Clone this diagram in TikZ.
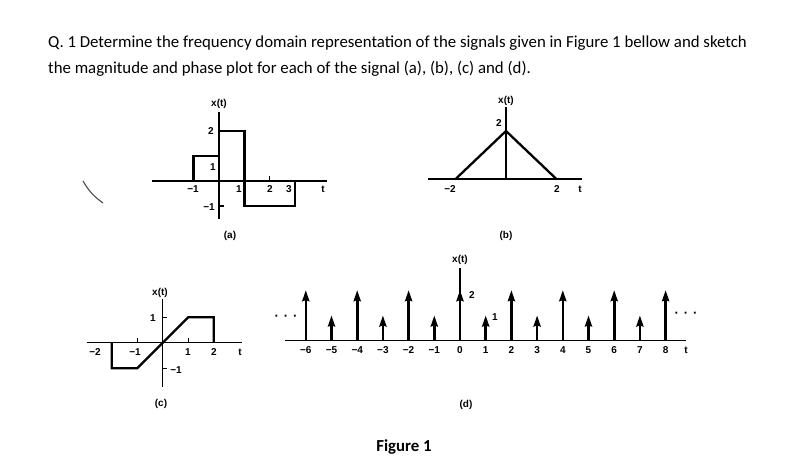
\documentclass[tikz,border=0pt]{standalone}
\usepackage{fontspec}
\setmainfont{Carlito}
\newfontfamily\plotfont{Liberation Sans}
\usetikzlibrary{arrows.meta}

\tikzset{
  axis/.style={line width=1.3pt},
  sig/.style={line width=2.3pt, line join=miter},
  tck/.style={line width=1.2pt},
  lbl/.style={font=\plotfont\bfseries\fontsize{10}{10}\selectfont, inner sep=0pt},
  dots/.style={font=\plotfont\bfseries\fontsize{13}{13}\selectfont, inner sep=0pt},
  imp/.style={line width=2.6pt, -{Stealth[length=11pt,width=7pt,inset=1pt]}},
  txt/.style={font=\fontsize{16.8}{26}\selectfont, anchor=base west, inner sep=0pt}
}

\begin{document}
\begin{tikzpicture}[x=1pt,y=-1pt]
\useasboundingbox (0,0) rectangle (812,463);
\fill[white] (0,0) rectangle (812,463);

% question
\node[txt] (q1) at (48,47) {Q. 1 Determine the frequency domain representation of the signals given in Figure 1 bellow and sketch};
\node[txt] (q2) at (48,73) {the magnitude and phase plot for each of the signal (a), (b), (c) and (d).};

% stray pen mark
\draw[black!70, line width=1.1pt] (83,181) to[bend right=12] (103,203);

% (a)
\begin{scope}[shift={(219,181)}, x=25.4pt, y=25pt]
  \draw[axis] (-2.64,0) -- (4.25,0);
  \draw[axis] (0,-1.52) -- (0,2.77);
  \draw[tck] (2,0) -- (2,0.2) (0,-1) -- (0.18,-1);
  \draw[sig] (-1,0) -- (-1,1) -- (0,1) -- (0,2) -- (1,2) -- (1,-1) -- (3,-1) -- (3,0);
\end{scope}
\node[lbl] (a-x) at (219,104) {x(t)};
\node[lbl] (a-y2) at (211,131) {2};
\node[lbl] (a-y1) at (213,167) {1};
\node[lbl] (a-ym1) at (209,207) {−1};
\node[lbl] (a-m1) at (193,189) {−1};
\node[lbl] (a-t1) at (239,189) {1};
\node[lbl] (a-t2) at (270,189) {2};
\node[lbl] (a-t3) at (289,189) {3};
\node[lbl] (a-t) at (323,189) {t};
\node[lbl] (a-cap) at (230,236) {(a)};

% (b)
\begin{scope}[shift={(506,179)}, x=25.2pt, y=24pt]
  \draw[axis] (-3.1,0) -- (3.02,0);
  \draw[axis] (0,0) -- (0,3);
  \draw[sig] (-2,0) -- (0,2) -- (2,0);
\end{scope}
\node[lbl] (b-x) at (506,101) {x(t)};
\node[lbl] (b-y2) at (499,123) {2};
\node[lbl] (b-m2) at (450,189) {−2};
\node[lbl] (b-t2) at (557,189) {2};
\node[lbl] (b-t) at (580,189) {t};
\node[lbl] (b-cap) at (506,236) {(b)};

% (c)
\begin{scope}[shift={(162.7,342.7)}, x=25.5pt, y=25.5pt]
  \draw[axis] (-2.98,0) -- (3.1,0);
  \draw[axis] (0,-1.73) -- (0,1.71);
  \draw[tck] (-1,0) -- (-1,0.18) (1,0) -- (1,0.18) (0,1) -- (0.18,1) (0,-1) -- (0.18,-1);
  \draw[sig] (-2,0) -- (-2,-1) -- (-1,-1) -- (1,1) -- (2,1) -- (2,0);
\end{scope}
\node[lbl] (c-x) at (160,293) {x(t)};
\node[lbl] (c-y1) at (153,318) {1};
\node[lbl] (c-ym1) at (176,370) {−1};
\node[lbl] (c-m2) at (95,352) {−2};
\node[lbl] (c-m1) at (135,352) {−1};
\node[lbl] (c-t1) at (188,352) {1};
\node[lbl] (c-t2) at (214,352) {2};
\node[lbl] (c-t) at (240,352) {t};
\node[lbl] (c-cap) at (161,404) {(c)};

% (d)
\begin{scope}[shift={(460,340.7)}, x=25.7pt, y=25.3pt]
  \draw[axis] (-6.8,0) -- (8.8,0);
  \draw[axis] (0,0) -- (0,2.87);
  \foreach \t in {-6,...,8}{
    \pgfmathsetmacro\h{isodd(\t) ? 1 : 2}
    \draw[imp] (\t,0) -- (\t,\h);
  }
\end{scope}
\node[lbl] (d-x) at (460,260) {x(t)};
\node[lbl] (d-h2) at (472,295) {2};
\node[lbl] (d-h1) at (495,317) {1};
\node[dots] (d-ldots) at (286,318) {·\hspace{5pt}·\hspace{5pt}·};
\node[dots] (d-rdots) at (686,315) {·\hspace{5pt}·\hspace{5pt}·};
\foreach \t in {-6,...,8}
  \node[lbl] (d-t\t) at ({460+25.7*\t},350) {\ifnum\t<0 −\fi\the\numexpr\ifnum\t<0 -\fi\t\relax};
\node[lbl] (d-t) at (686,350) {t};
\node[lbl] (d-cap) at (466,405) {(d)};

\node[font=\bfseries\fontsize{16.8}{18}\selectfont, inner sep=0pt] (fig) at (404,447) {Figure 1};
\end{tikzpicture}
\end{document}
